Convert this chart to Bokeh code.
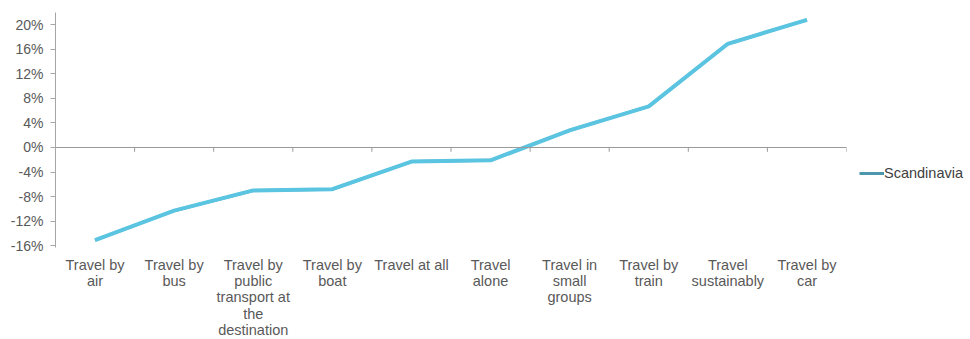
from bokeh.plotting import figure
from bokeh.models import (Range1d, FixedTicker, Span, Legend, LegendItem)
from bokeh.embed import file_html
from bokeh.resources import INLINE

categories = ["Travel by\nair", "Travel by\nbus", "Travel by\npublic\ntransport at\nthe\ndestination",
              "Travel by\nboat", "Travel at all", "Travel\nalone", "Travel in\nsmall\ngroups",
              "Travel by\ntrain", "Travel\nsustainably", "Travel by\ncar"]
scandinavia = [-15.1, -10.3, -7.0, -6.8, -2.3, -2.1, 2.8, 6.7, 16.9, 20.8]
y_ticks = [-16, -12, -8, -4, 0, 4, 8, 12, 16, 20]

n = len(categories)
xs = [i + 0.5 for i in range(n)]

p = figure(frame_width=791, frame_height=235, output_backend="svg", toolbar_location=None,
           x_range=Range1d(0, n), y_range=Range1d(-16.3, 22.0),
           min_border_left=55, min_border_right=5, min_border_top=12, min_border_bottom=92)
p.outline_line_color = None
p.grid.visible = False
p.background_fill_color = "white"

FONT = "Liberation Sans"
LABEL_COLOR = "#595959"

# x axis: category labels
p.xaxis.ticker = FixedTicker(ticks=xs)
p.xaxis.major_label_overrides = {x: c for x, c in zip(xs, categories)}
p.xaxis.axis_line_color = None
p.xaxis.major_tick_line_color = None
p.xaxis.minor_tick_line_color = None
p.xaxis.major_label_text_font = FONT
p.xaxis.major_label_text_font_size = "14.5px"
p.xaxis.major_label_text_line_height = 1.03
p.xaxis.major_label_text_color = LABEL_COLOR
p.xaxis.major_label_standoff = 3

# y axis
p.yaxis.ticker = FixedTicker(ticks=y_ticks)
p.yaxis.major_label_overrides = {t: f"{t}%" for t in y_ticks}
p.yaxis.axis_line_color = "#a6a6a6"
p.yaxis.major_tick_line_color = "#a6a6a6"
p.yaxis.major_tick_out = 5
p.yaxis.major_tick_in = 0
p.yaxis.minor_tick_line_color = None
p.yaxis.major_label_text_font = FONT
p.yaxis.major_label_text_font_size = "14px"
p.yaxis.major_label_text_color = LABEL_COLOR
p.yaxis.major_label_standoff = 7

# zero line with category boundary ticks
p.add_layout(Span(location=0, dimension="width", line_color="#9a9a9a", line_width=1))
bx = list(range(1, n + 1))
p.segment(x0=bx, y0=[0] * n, x1=bx, y1=[-0.7] * n, line_color="#9a9a9a", line_width=1)

legend_glyph = p.line(xs, scandinavia, line_color="#4d97ad", line_width=3)
line = p.line(xs, scandinavia, line_color="#5bc5e1", line_width=4, line_join="round")

legend = Legend(items=[LegendItem(label="Scandinavia", renderers=[legend_glyph])],
                location=(13, 64), border_line_color=None, background_fill_alpha=0,
                label_text_font=FONT, label_text_font_size="14.5px", label_text_color="#404040",
                glyph_width=25, label_standoff=0, padding=0, margin=0)
p.add_layout(legend, "right")

open("out.html", "w").write(file_html(p, INLINE))
